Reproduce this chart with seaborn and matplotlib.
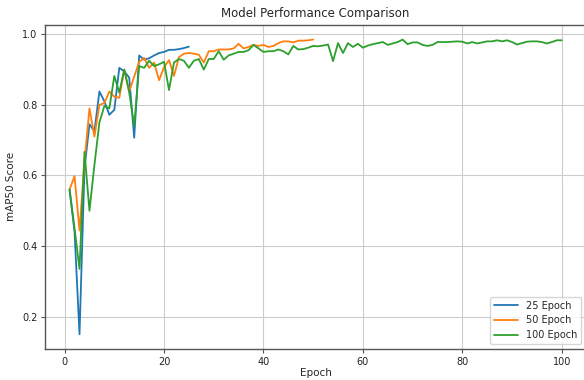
import numpy as np
import pandas as pd
import matplotlib
matplotlib.use("Agg")
import matplotlib.pyplot as plt
import seaborn as sns

# mAP50 per epoch for each training run
map50_25 = [0.56, 0.44, 0.15, 0.62, 0.745, 0.725, 0.838, 0.81, 0.772, 0.786,
            0.905, 0.895, 0.877, 0.707, 0.940, 0.928, 0.932, 0.940, 0.947, 0.950,
            0.956, 0.956, 0.958, 0.961, 0.965]

map50_50 = [0.56, 0.598, 0.444, 0.64, 0.79, 0.71, 0.80, 0.805, 0.838, 0.823,
            0.82, 0.90, 0.838, 0.88, 0.922, 0.933, 0.905, 0.92, 0.87, 0.907,
            0.927, 0.882, 0.935, 0.945, 0.947, 0.945, 0.942, 0.92, 0.952, 0.952,
            0.957, 0.957, 0.957, 0.96, 0.973, 0.96, 0.964, 0.97, 0.967, 0.97,
            0.964, 0.967, 0.975, 0.98, 0.98, 0.977, 0.982, 0.982, 0.983, 0.985]

map50_100 = [0.56, 0.45, 0.335, 0.667, 0.50, 0.63, 0.75, 0.797, 0.79, 0.882,
             0.835, 0.90, 0.835, 0.74, 0.91, 0.905, 0.925, 0.91, 0.915, 0.922,
             0.842, 0.92, 0.93, 0.925, 0.905, 0.925, 0.93, 0.90, 0.93, 0.93,
             0.952, 0.928, 0.94, 0.945, 0.95, 0.95, 0.955, 0.97, 0.96, 0.95,
             0.952, 0.952, 0.957, 0.952, 0.943, 0.967, 0.957, 0.958, 0.962, 0.967,
             0.966, 0.968, 0.971, 0.924, 0.975, 0.947, 0.975, 0.964, 0.973, 0.962,
             0.968, 0.972, 0.975, 0.978, 0.97, 0.974, 0.978, 0.985, 0.972, 0.977,
             0.977, 0.97, 0.967, 0.97, 0.978, 0.978, 0.978, 0.979, 0.98, 0.979,
             0.974, 0.978, 0.974, 0.977, 0.98, 0.98, 0.983, 0.98, 0.983, 0.978,
             0.971, 0.975, 0.979, 0.98, 0.98, 0.978, 0.974, 0.978, 0.983, 0.983]

run_labels = ["25 Epoch", "50 Epoch", "100 Epoch"]
run_values = [map50_25, map50_50, map50_100]
run_colors = ["#1f77b4", "#ff7f0e", "#2ca02c"]

frames = []
for label, vals in zip(run_labels, run_values):
    frames.append(pd.DataFrame({
        "Epoch": np.arange(1, len(vals) + 1),
        "mAP50": vals,
        "Run": label,
    }))
df = pd.concat(frames, ignore_index=True)

sns.set_style("ticks")
plt.rcParams["font.family"] = ["DejaVu Sans"]

fig = plt.figure(figsize=(5.84, 3.80), dpi=100)
ax = fig.add_axes([0.077, 0.0816, 0.927, 0.853])

sns.lineplot(data=df, x="Epoch", y="mAP50", hue="Run", hue_order=run_labels,
             palette=run_colors, linewidth=1.3, ax=ax)

ax.grid(True, color="#cccccc", linewidth=0.8)
ax.set_axisbelow(True)
for side in ax.spines.values():
    side.set_color("#555555")
    side.set_linewidth(1.0)

ax.set_xticks([0, 20, 40, 60, 80, 100])
ax.set_yticks([0.2, 0.4, 0.6, 0.8, 1.0])
ax.tick_params(labelsize=7, length=3, pad=2.5, color="#555555", labelcolor="#222222")
ax.set_xlabel("Epoch", fontsize=7.5, labelpad=1)
ax.set_ylabel("mAP50 Score", fontsize=7.5, labelpad=4)
ax.set_title("Model Performance Comparison", fontsize=8.5, pad=6)

ax.legend(loc="lower right", fontsize=7, frameon=True, handlelength=2.5)

fig.savefig("out.png", dpi=100)
